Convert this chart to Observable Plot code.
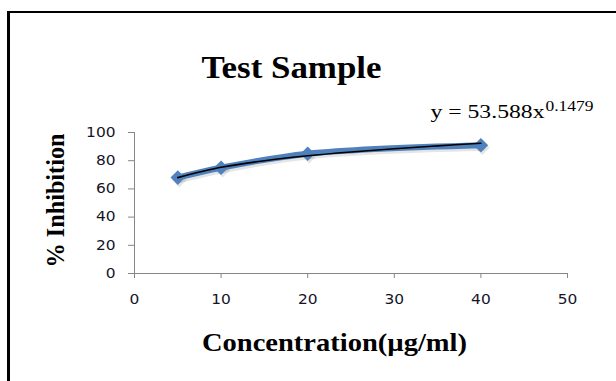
<!DOCTYPE html>
<html>
<head>
<meta charset="utf-8">
<script src="https://cdn.jsdelivr.net/npm/d3@7"></script>
<script src="https://cdn.jsdelivr.net/npm/@observablehq/plot@0.6"></script>
<style>
  html, body { margin: 0; padding: 0; background: #fff; }
  #wrap { position: relative; width: 616px; height: 381px; overflow: hidden; }
  #border { position: absolute; left: 7px; top: 11px; width: 700px; height: 500px;
            border-left: 3px solid #000; border-top: 2.5px solid #000; pointer-events: none; }
</style>
</head>
<body>
<div id="wrap"><div id="border"></div></div>
<script>
// Data
const concentration = [5, 10, 20, 40];          // µg/ml
const inhibition    = [68, 75, 85, 91];         // %
// Black power trendline
const trendX = [5, 10, 15, 20, 25, 30, 35, 40];
const trendY = [68, 75.3, 80, 83.5, 86.2, 88.5, 90.5, 92.4];
const xTicks = [0, 10, 20, 30, 40, 50];
const yTicks = [0, 20, 40, 60, 80, 100];
const titleText = "Test Sample";
const xLabel = "Concentration(µg/ml)";
const yLabel = "% Inhibition";
const eqMain = "y = 53.588x";
const eqExp = "0.1479";

const points = concentration.map((c, i) => ({x: c, y: inhibition[i]}));
const trend = trendX.map((c, i) => ({x: c, y: trendY[i]}));

const serif = "Liberation Serif, Times New Roman, serif";
const blue = "#4F81BD";
const axisGray = "#868686";

const chart = Plot.plot({
  width: 616,
  height: 381,
  marginLeft: 134,
  marginRight: 49,
  marginTop: 132,
  marginBottom: 108,
  style: {fontFamily: "DejaVu Sans, sans-serif", fontSize: "13.5px", background: "transparent"},
  x: {domain: [0, 50]},
  y: {domain: [0, 100]},
  marks: [
    Plot.ruleX([0], {stroke: axisGray, strokeWidth: 1}),
    Plot.ruleY([0], {stroke: axisGray, strokeWidth: 1}),
    Plot.axisY({ticks: yTicks, tickSize: 6, tickPadding: 13, stroke: axisGray, fill: "#141428", label: null}),
    Plot.axisX({ticks: xTicks, tickSize: 5, tickPadding: 16, stroke: axisGray, fill: "#141428", label: null}),
    // soft shadow
    Plot.line(points, {x: "x", y: "y", curve: "catmull-rom", stroke: "#000", strokeOpacity: 0.1, strokeWidth: 6, dx: 1.5, dy: 2.5}),
    Plot.dot(points, {x: "x", y: "y", symbol: "square", rotate: 45, r: 5.8, fill: "#000", fillOpacity: 0.1, stroke: "none", dx: 1.5, dy: 2.5}),
    Plot.line(points, {x: "x", y: "y", curve: "catmull-rom", stroke: blue, strokeWidth: 6}),
    Plot.dot(points, {x: "x", y: "y", symbol: "square", rotate: 45, r: 5.8, fill: blue, stroke: "none"}),
    Plot.line(trend, {x: "x", y: "y", curve: "catmull-rom", stroke: "#000", strokeWidth: 1.6}),
    // texts
    Plot.text([titleText], {frameAnchor: "top-left", text: d => d, dx: 157, dy: -55, lineAnchor: "bottom", textAnchor: "middle",
      fontFamily: serif, fontWeight: "bold", fontSize: 32, fill: "#000"}),
    Plot.text([eqMain], {frameAnchor: "top-left", text: d => d, dx: 296, dy: -15, lineAnchor: "bottom", textAnchor: "start",
      fontFamily: serif, fontSize: 18, fill: "#000"}),
    Plot.text([eqExp], {frameAnchor: "top-left", text: d => d, dx: 411, dy: -22, lineAnchor: "bottom", textAnchor: "start",
      fontFamily: serif, fontSize: 14.5, fill: "#000"}),
    Plot.text([yLabel], {frameAnchor: "top-left", text: d => d, dx: -71, dy: 68, rotate: -90, lineAnchor: "bottom", textAnchor: "middle",
      fontFamily: serif, fontWeight: "bold", fontSize: 25, fill: "#000"}),
    Plot.text([xLabel], {frameAnchor: "top-left", text: d => d, dx: 200, dy: 218, lineAnchor: "bottom", textAnchor: "middle",
      fontFamily: serif, fontWeight: "bold", fontSize: 26, fill: "#000"})
  ]
});

const svg = d3.select(chart);
// tick labels: wider digits, as in the reference
svg.selectAll("text")
  .filter(function() { return /^\s*\d+\s*$/.test(this.textContent); })
  .each(function() {
    const n = this.textContent.trim().length;
    d3.select(this).attr("textLength", n * 9.8).attr("lengthAdjust", "spacingAndGlyphs");
  });

// stretch text to the widths measured in the reference
const fit = (str, len) => svg.selectAll("text")
  .filter(function() { return this.textContent === str; })
  .attr("textLength", len).attr("lengthAdjust", "spacingAndGlyphs");
fit(titleText, 180);
fit(eqMain, 114);
fit(eqExp, 48);
fit(xLabel, 265);
fit(yLabel, 134);

document.getElementById("wrap").prepend(chart);
</script>
</body>
</html>
